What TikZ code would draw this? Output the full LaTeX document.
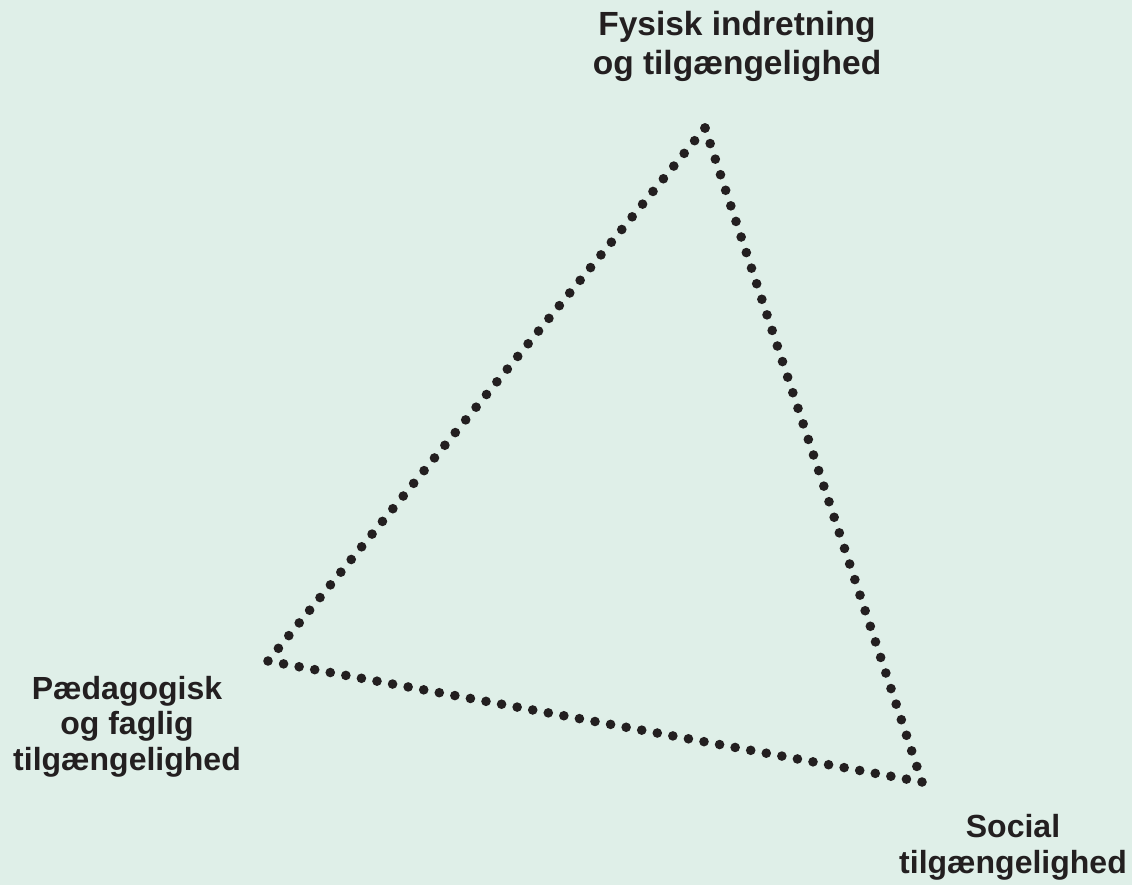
\documentclass[tikz,border=0pt]{standalone}
\usepackage{fontspec}
\setmainfont{Liberation Sans}
\usetikzlibrary{calc}
\definecolor{bgmint}{RGB}{223,239,232}
\definecolor{ink}{RGB}{35,31,32}
\tikzset{
  lbl/.style={anchor=base, align=center, inner sep=0pt, text=ink,
    font=\bfseries\fontsize{32}{35.5}\selectfont},
  lbltop/.style={lbl, font=\bfseries\fontsize{33.5}{39}\selectfont},
  dot/.style={fill=ink, draw=none}
}
\begin{document}
\begin{tikzpicture}[x=1pt,y=-1pt]
\useasboundingbox (0,0) rectangle (1132,885);
\fill[bgmint] (0,0) rectangle (1132,885);
\coordinate (T) at (705,128);
\coordinate (L) at (268,661);
\coordinate (R) at (922,782);
\foreach \i in {0,...,42} {
  \fill[dot] ($(T)!\i/42!(L)$) circle[radius=4.8];
  \fill[dot] ($(T)!\i/42!(R)$) circle[radius=4.8];
}
\foreach \i in {1,...,41} {
  \fill[dot] ($(L)!\i/42!(R)$) circle[radius=4.8];
}
\node[lbltop] (ft) at (737,75) {Fysisk indretning\\og tilgængelighed};
\node[lbl] (fl) at (127,770) {Pædagogisk\\og faglig\\tilgængelighed};
\node[lbl] (fr) at (1013,873) {Social\\tilgængelighed};
\end{tikzpicture}
\end{document}
